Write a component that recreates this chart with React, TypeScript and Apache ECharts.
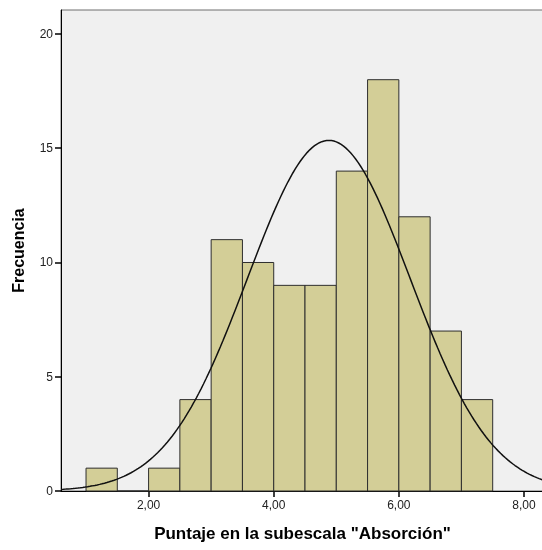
import React, { useEffect, useRef } from "react";
import * as echarts from "echarts";

const binStarts = [1.0, 1.5, 2.0, 2.5, 3.0, 3.5, 4.0, 4.5, 5.0, 5.5, 6.0, 6.5, 7.0];
const binCounts = [1, 0, 1, 4, 11, 10, 9, 9, 14, 18, 12, 7, 4];
const binWidth = 0.5;
const xTicks = [2, 4, 6, 8];
const xTickLabels = ["2,00", "4,00", "6,00", "8,00"];
const yTicks = [0, 5, 10, 15, 20];
const curveMean = 4.88;
const curveSd = 1.3;
const sampleN = 100;

export default function App() {
  const ref = useRef<HTMLDivElement>(null);
  useEffect(() => {
    if (!ref.current) return;
    const chart = echarts.init(ref.current, null, { renderer: "svg" });
    const xMin = 0.6;
    const xMax = 8.32;
    const curve: number[][] = [];
    const steps = 200;
    for (let i = 0; i <= steps; i++) {
      const x = xMin + ((xMax - xMin) * i) / steps;
      const z = (x - curveMean) / curveSd;
      const y = (sampleN * binWidth) / (curveSd * Math.sqrt(2 * Math.PI)) * Math.exp(-0.5 * z * z);
      curve.push([x, y]);
    }
    const bars = binStarts.map((s, i) => [s, s + binWidth, binCounts[i]]);
    chart.setOption({
      animation: false,
      textStyle: { fontFamily: "Liberation Sans, Arial, sans-serif" },
      grid: {
        left: 61,
        top: 10,
        right: -2,
        bottom: 59,
        outerBoundsMode: "none",
        containLabel: false,
        show: true,
        backgroundColor: "#f0f0f0",
        borderColor: "#6e6e6e",
        borderWidth: 1,
      },
      xAxis: {
        type: "value",
        min: xMin,
        max: xMax,
        name: 'Puntaje en la subescala "Absorción"',
        nameLocation: "middle",
        nameGap: 34,
        nameTextStyle: { fontSize: 17, fontWeight: "bold", color: "#000" },
        axisLine: { show: true, lineStyle: { color: "#000", width: 1 } },
        axisTick: { show: true, inside: false, customValues: xTicks, length: 6, lineStyle: { color: "#000", width: 1.5 } },
        axisLabel: {
          customValues: xTicks,
          formatter: (v: number) => xTickLabels[xTicks.indexOf(v)] ?? "",
          fontSize: 12,
          color: "#222",
          margin: 8,
        },
        splitLine: { show: false },
      },
      yAxis: {
        type: "value",
        min: 0,
        max: 21.05,
        name: "Frecuencia",
        nameLocation: "middle",
        nameGap: 35,
        nameRotate: 90,
        nameTextStyle: { fontSize: 16, fontWeight: "bold", color: "#000" },
        axisLine: { show: true, lineStyle: { color: "#000", width: 1 } },
        axisTick: { show: true, inside: false, customValues: yTicks, length: 6, lineStyle: { color: "#000", width: 1.5 } },
        axisLabel: { customValues: yTicks, fontSize: 12, color: "#222", margin: 8 },
        splitLine: { show: false },
      },
      series: [
        {
          type: "custom",
          data: bars,
          renderItem: (params: any, api: any) => {
            const p0 = api.coord([api.value(0), api.value(2)]);
            const p1 = api.coord([api.value(1), 0]);
            return {
              type: "rect",
              shape: { x: p0[0], y: p0[1], width: p1[0] - p0[0], height: p1[1] - p0[1] },
              style: { fill: "#d3ce97", stroke: "#2e2e2e", lineWidth: 1 },
            };
          },
          z: 2,
        },
        {
          type: "line",
          data: curve,
          showSymbol: false,
          smooth: false,
          lineStyle: { color: "#111", width: 1.5 },
          z: 3,
        },
      ],
    });
    return () => chart.dispose();
  }, []);
  return <div ref={ref} style={{ position: "fixed", left: 0, top: 0, width: 542, height: 550 }} />;
}
